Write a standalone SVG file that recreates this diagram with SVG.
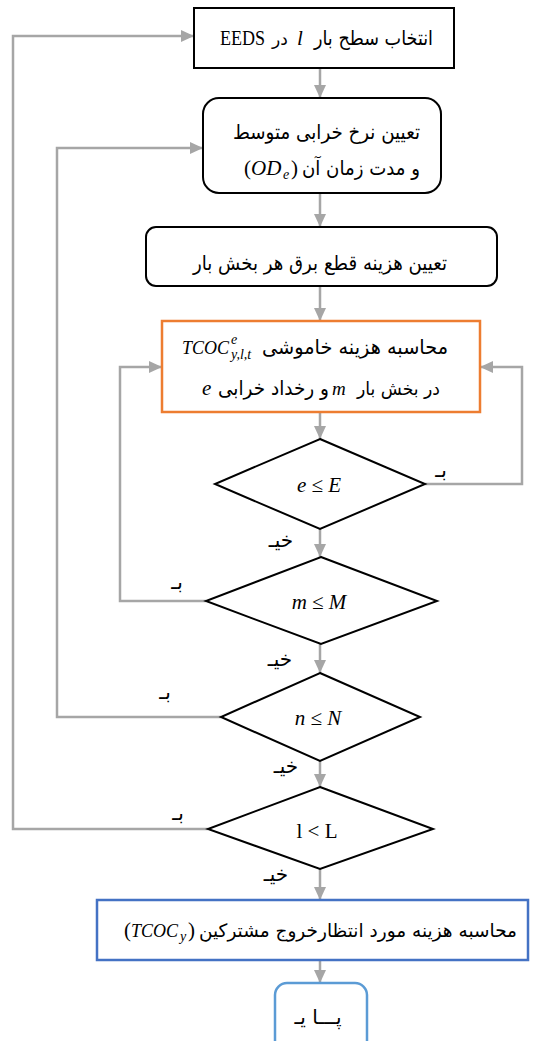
<svg xmlns="http://www.w3.org/2000/svg" width="538" height="1041" viewBox="0 0 538 1041">
<defs>
<marker id="ah" markerUnits="userSpaceOnUse" markerWidth="13" markerHeight="12" refX="13" refY="6" orient="auto"><path d="M0,0 L13,6 L0,12 z" fill="#a6a6a6"/></marker>
<style>
.fa{font-family:"DejaVu Sans",sans-serif;font-size:20px;fill:#000}
.m{font-family:"Liberation Serif",serif;font-style:italic;font-size:21px;fill:#000}
.mr{font-family:"Liberation Serif",serif;font-size:21px;fill:#000}
.s{font-family:"Liberation Serif",serif;font-style:italic;font-size:14px;fill:#000}
.c{fill:none;stroke:#a6a6a6;stroke-width:2.5;marker-end:url(#ah)}
.box{fill:#fff;stroke:#000;stroke-width:2}
.lb{font-family:"DejaVu Sans",sans-serif;font-size:20px;fill:#000}
</style>
</defs>
<rect width="538" height="1041" fill="#fff"/>

<g id="connectors">
<path class="c" d="M320,68 V98"/>
<path class="c" d="M320,193 V227"/>
<path class="c" d="M320,286 V321"/>
<path class="c" d="M320,412 V439"/>
<path class="c" d="M320,529 V557"/>
<path class="c" d="M320,644 V673"/>
<path class="c" d="M320,761 V787"/>
<path class="c" d="M320,869 V900"/>
<path class="c" d="M320,960 V983"/>
<path class="c" d="M425,484 H522 V367 H480"/>
<path class="c" d="M206,601 H120 V367 H162"/>
<path class="c" d="M221,717 H57 V148 H203"/>
<path class="c" d="M208,829 H13 V36 H194"/>
<text class="lb" x="441" y="477" text-anchor="middle">بـ</text>
<text class="lb" x="281" y="547" text-anchor="middle">خیـ</text>
<text class="lb" x="177" y="589" text-anchor="middle">بـ</text>
<text class="lb" x="280" y="666" text-anchor="middle">خیـ</text>
<text class="lb" x="165" y="699" text-anchor="middle">بـ</text>
<text class="lb" x="286" y="773" text-anchor="middle">خیـ</text>
<text class="lb" x="178" y="820" text-anchor="middle">بـ</text>
<text class="lb" x="276" y="881" text-anchor="middle">خیـ</text>
</g>

<g id="n1">
<rect class="box" x="194" y="8" width="260" height="60"/>
<text class="fa" x="314" y="45" textLength="119" lengthAdjust="spacingAndGlyphs">انتخاب سطح بار</text>
<text class="m" x="297" y="45">l</text>
<text class="fa" x="272" y="45" style="font-size:17px">در</text>
<text class="mr" x="220" y="45" textLength="45" lengthAdjust="spacingAndGlyphs">EEDS</text>
</g>

<g id="n2">
<rect class="box" x="203" y="98" width="238" height="95" rx="16"/>
<text class="fa" x="233" y="139" textLength="187" lengthAdjust="spacingAndGlyphs">تعیین نرخ خرابی متوسط</text>
<text class="fa" x="302" y="175" textLength="118" lengthAdjust="spacingAndGlyphs">و مدت زمان آن</text>
<text class="mr" x="244" y="175">(</text>
<text class="m" x="251" y="175">OD</text>
<text class="s" x="283" y="179">e</text>
<text class="mr" x="291" y="175">)</text>
</g>

<g id="n3">
<rect class="box" x="146" y="227" width="351" height="59" rx="10"/>
<text class="fa" x="193" y="270" textLength="254" lengthAdjust="spacingAndGlyphs">تعیین هزینه قطع برق هر بخش بار</text>
</g>

<g id="n4">
<rect x="162" y="321" width="318" height="91" fill="#fff" stroke="#ed7d31" stroke-width="2.5"/>
<text class="fa" x="262" y="354" textLength="186" lengthAdjust="spacingAndGlyphs">محاسبه هزینه خاموشی</text>
<text class="m" x="182" y="354" style="font-size:18px">TCOC</text>
<text class="s" x="231" y="344">e</text>
<text class="s" x="231" y="359">y,l,t</text>
<text class="fa" x="357" y="395" style="font-size:18px" textLength="83" lengthAdjust="spacingAndGlyphs">در بخش بار</text>
<text class="m" x="332" y="395" style="font-size:19px">m</text>
<text class="fa" x="218" y="395" textLength="111" lengthAdjust="spacingAndGlyphs">و رخداد خرابی</text>
<text class="m" x="202" y="395">e</text>
</g>

<g id="d1">
<polygon class="box" points="320,439 425,484 320,529 215,484"/>
<text class="m" x="319" y="492" text-anchor="middle">e ≤ E</text>
</g>

<g id="d2">
<polygon class="box" points="321,557 437,601 321,644 206,601"/>
<text class="m" x="319" y="609" text-anchor="middle">m ≤ M</text>
</g>

<g id="d3">
<polygon class="box" points="320,673 420,717 320,761 221,717"/>
<text class="m" x="318" y="725" text-anchor="middle">n ≤ N</text>
</g>

<g id="d4">
<polygon class="box" points="320,787 433,829 320,869 208,829"/>
<text class="mr" x="317" y="838" text-anchor="middle">l &lt; L</text>
</g>

<g id="n5">
<rect x="97" y="900" width="431" height="60" fill="#fff" stroke="#4472c4" stroke-width="2.5"/>
<text class="fa" x="517" y="937" text-anchor="end" style="font-size:18.5px">محاسبه هزینه مورد انتظارخروج مشترکین</text>
<text class="mr" x="124" y="937">(</text>
<text class="m" x="131" y="937" style="font-size:18px">TCOC</text>
<text class="s" x="180" y="941">y</text>
<text class="mr" x="188" y="937">)</text>
</g>

<g id="n6">
<rect x="275" y="983" width="92" height="80" rx="12" fill="#fff" stroke="#5b9bd5" stroke-width="2.5"/>
<text class="fa" x="318" y="1024" text-anchor="middle">پـــا یـ</text>
</g>
</svg>
